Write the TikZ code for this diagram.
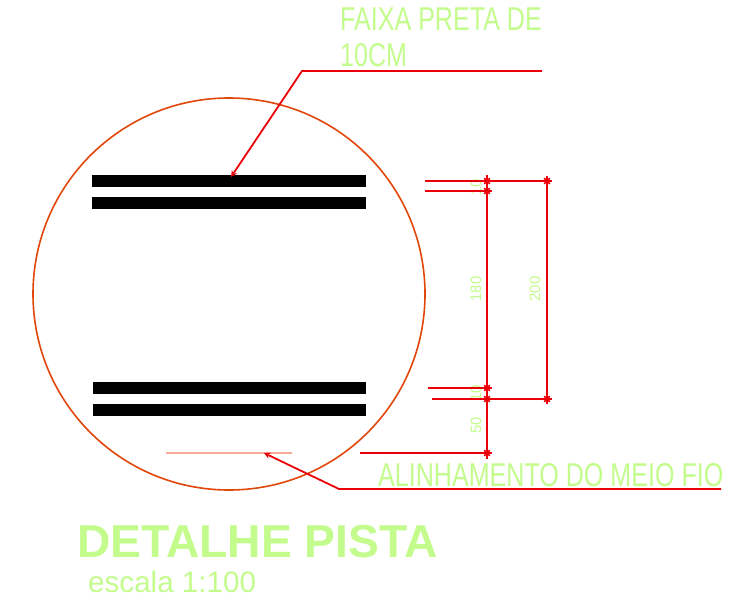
\documentclass[tikz,border=0pt]{standalone}
\usepackage{fontspec}
\setmainfont{Liberation Sans}
\newfontfamily\cadfont[FakeStretch=0.76]{Liberation Sans}
\definecolor{cadgreen}{RGB}{195,252,140}
\definecolor{cadred}{RGB}{235,0,10}
\definecolor{cadcircle}{RGB}{225,70,10}
\definecolor{cadpink}{RGB}{250,170,150}
\usetikzlibrary{shapes.misc}
\tikzset{
  dimline/.style={draw=cadred,line width=1.6pt},
  leader/.style={->,draw=cadred,line width=1.8pt},
  tickmark/.style={cross out,draw=cadred,line width=1.6pt,minimum size=4pt,inner sep=0pt},
  label/.style={text=cadgreen,inner sep=0pt,anchor=base west},
  dimtext/.style={text=cadgreen,inner sep=0pt,rotate=90,font=\fontsize{15}{15}\selectfont},
  faixa/.style={fill=black,draw=none},
}
\begin{document}
\begin{tikzpicture}[x=1pt,y=-1pt,>=stealth]
\useasboundingbox (0,0) rectangle (735,612);
\node (centre) at (229,294) [circle,draw=cadcircle,line width=1.6pt,minimum size=392pt,inner sep=0pt] {};
\fill[faixa] (92,175) rectangle (366,187);
\fill[faixa] (92,197) rectangle (366,209);
\fill[faixa] (93,382) rectangle (366,394);
\fill[faixa] (93,404) rectangle (366,416);
% textos
\node (t1) at (340,31) [label,font=\cadfont\fontsize{33}{33}\selectfont] {FAIXA PRETA DE};
\node (t2) at (340,67) [label,font=\cadfont\fontsize{33}{33}\selectfont] {10CM};
\node (t3) at (378,486) [label,font=\cadfont\fontsize{33}{33}\selectfont] {ALINHAMENTO DO MEIO FIO};
\node (t4) at (77,557) [label,font=\bfseries\fontsize{46.2}{46.2}\selectfont] {DETALHE PISTA};
\node (t5) at (88,592) [label,font=\fontsize{29.6}{29.6}\selectfont] {escala 1:100};
\node (d1) at (476,187) [dimtext] {10};
\node (d2) at (476,289) [dimtext] {180};
\node (d3) at (476,393) [dimtext] {10};
\node (d4) at (476,425) [dimtext] {50};
\node (d5) at (535,289) [dimtext] {200};
% setas
\coordinate (a1) at (542,71);
\coordinate (a2) at (302,71);
\coordinate (a3) at (231,177);
\draw[leader] (a1) -- (a2) -- (a3);
\coordinate (m1) at (166,453);
\coordinate (m2) at (292,453);
\draw[draw=cadpink,line width=1.8pt] (m1) -- (m2);
\coordinate (b1) at (721,489);
\coordinate (b2) at (339,489);
\coordinate (b3) at (264,453);
\draw[leader] (b1) -- (b2) -- (b3);
% cotas
\node (p1) at (487,181) [tickmark] {};
\node (p2) at (547,181) [tickmark] {};
\node (p3) at (487,191) [tickmark] {};
\node (p4) at (487,388) [tickmark] {};
\node (p5) at (487,399) [tickmark] {};
\node (p6) at (547,399) [tickmark] {};
\node (p7) at (487,453) [tickmark] {};
\coordinate (e1) at (425,181);
\coordinate (e2) at (552,181);
\coordinate (e3) at (425,191);
\coordinate (e4) at (492,191);
\coordinate (e5) at (428,388);
\coordinate (e6) at (492,388);
\coordinate (e7) at (432,399);
\coordinate (e8) at (552,399);
\coordinate (e9) at (360,453);
\coordinate (e10) at (492,453);
\coordinate (e11) at (487,175);
\coordinate (e12) at (487,459);
\coordinate (e13) at (547,176);
\coordinate (e14) at (547,404);
\draw[dimline] (e1) -- (e2);
\draw[dimline,line width=2pt] (e3) -- (e4);
\draw[dimline] (e5) -- (e6);
\draw[dimline] (e7) -- (e8);
\draw[dimline] (e9) -- (e10);
\draw[dimline] (e11) -- (e12);
\draw[dimline] (e13) -- (e14);
\end{tikzpicture}
\end{document}
